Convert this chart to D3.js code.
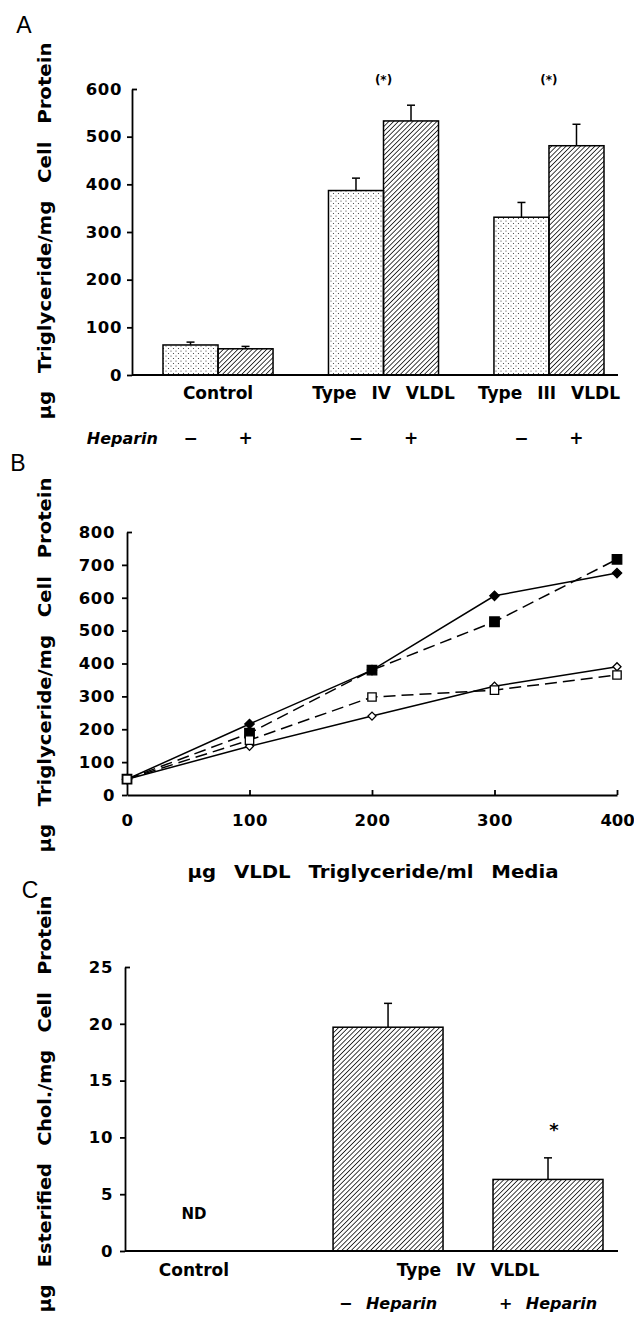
<!DOCTYPE html>
<html>
<head>
<meta charset="utf-8">
<script src="https://cdn.jsdelivr.net/npm/d3@7"></script>
<style>
  body { margin: 0; background: #fff; }
  text { font-family: "DejaVu Sans", sans-serif; font-weight: bold; fill: #000; }
  .letter { font-family: "Liberation Sans", sans-serif; font-weight: normal; font-size: 23px; }
  .tick text { font-size: 16.5px; letter-spacing: 0.6px; }
  .cat { font-size: 17px; word-spacing: 9px; }
  .hep { font-size: 16px; font-style: italic; word-spacing: 8px; }
  .title { font-size: 18px; word-spacing: 10px; }
  .domain, .tick line { stroke: #000; stroke-width: 1.8px; }
</style>
</head>
<body>
<svg id="fig" width="634" height="1317"></svg>
<script>
// ---- Panel A: triglyceride accumulation, bars by VLDL source, without / with heparin
const groupsA = ["Control", "Type IV VLDL", "Type III VLDL"];
const heparinLevels = ["\u2212", "+"];
const noHeparinA = [63, 387, 331];
const noHeparinErrA = [6, 26, 31];
const heparinA = [55, 533, 481];
const heparinErrA = [5, 33, 45];
const sigA = ["", "(*)", "(*)"];
const ticksA = [0, 100, 200, 300, 400, 500, 600];

// ---- Panel B: dose response, µg VLDL triglyceride per ml media
const dosesB = [0, 100, 200, 300, 400];
const filledDiamondB = [48, 216, 380, 606, 675];
const filledSquareB = [48, 188, 380, 527, 717];
const openDiamondB = [48, 148, 240, 331, 390];
const openSquareB = [48, 167, 298, 319, 365];
const ticksBy = [0, 100, 200, 300, 400, 500, 600, 700, 800];
const ticksBx = [0, 100, 200, 300, 400];

// ---- Panel C: esterified cholesterol
const groupsC = ["Control", "Type IV VLDL"];
const noHeparinC = [null, 19.7];
const noHeparinErrC = [null, 2.1];
const heparinC = [null, 6.3];
const heparinErrC = [null, 1.9];
const sigC = ["", "*"];
const notDetectedC = ["ND", ""];
const heparinLabelsC = ["\u2212  Heparin", "+  Heparin"];
const ticksC = [0, 5, 10, 15, 20, 25];

const svg = d3.select("#fig");

// fill patterns: stipple for "no heparin", diagonal hatch for "heparin"
const defs = svg.append("defs");
const dots = defs.append("pattern").attr("id", "dots")
  .attr("patternUnits", "userSpaceOnUse").attr("width", 5).attr("height", 5);
dots.append("circle").attr("cx", 1).attr("cy", 1).attr("r", 0.6).attr("fill", "#333");
dots.append("circle").attr("cx", 3.5).attr("cy", 3.5).attr("r", 0.6).attr("fill", "#333");
const hatch = defs.append("pattern").attr("id", "hatch")
  .attr("patternUnits", "userSpaceOnUse").attr("width", 3.4).attr("height", 3.4)
  .attr("patternTransform", "rotate(45)");
hatch.append("line").attr("x1", 0).attr("y1", 0).attr("x2", 0).attr("y2", 3.4)
  .attr("stroke", "#000").attr("stroke-width", 1.5);

const fills = { "\u2212": "url(#dots)", "+": "url(#hatch)" };

function yAxis(g, scale, ticks, padding) {
  g.call(d3.axisLeft(scale).tickValues(ticks).tickSize(5).tickSizeOuter(0).tickPadding(padding));
  const top = d3.max(ticks);
  g.selectAll(".tick").filter(d => d === top).select("line").attr("x2", 5);
  g.selectAll(".tick text").attr("font-family", null);
}

function rotatedTitle(x, y, label, len) {
  svg.append("text").attr("class", "title")
    .attr("transform", `translate(${x},${y}) rotate(-90)`)
    .attr("text-anchor", "middle").attr("dy", "0.35em")
    .attr("textLength", len).attr("lengthAdjust", "spacingAndGlyphs")
    .text(label);
}

function errorBars(g, rows, x, y) {
  const cap = 4;
  rows.forEach(r => {
    const cx = x(r);
    g.append("line").attr("x1", cx).attr("x2", cx)
      .attr("y1", y(r.v)).attr("y2", y(r.v + r.e)).attr("stroke", "#000").attr("stroke-width", 1.5);
    g.append("line").attr("x1", cx - cap).attr("x2", cx + cap)
      .attr("y1", y(r.v + r.e)).attr("y2", y(r.v + r.e)).attr("stroke", "#000").attr("stroke-width", 1.5);
  });
}

// ================= Panel A =================
const A = { left: 132, right: 618, top: 89, bottom: 375 };
const yA = d3.scaleLinear().domain([0, 600]).range([A.bottom, A.top]);
const xA = d3.scaleBand().domain(groupsA).range([163, 604]).paddingInner(0.335).paddingOuter(0);
const subA = d3.scaleBand().domain(heparinLevels).range([0, xA.bandwidth()]);

const rowsA = [];
groupsA.forEach((g, i) => {
  rowsA.push({ g, h: heparinLevels[0], v: noHeparinA[i], e: noHeparinErrA[i] });
  rowsA.push({ g, h: heparinLevels[1], v: heparinA[i], e: heparinErrA[i] });
});

const gA = svg.append("g");
gA.selectAll("rect.bar").data(rowsA).join("rect").attr("class", "bar")
  .attr("x", d => xA(d.g) + subA(d.h)).attr("width", subA.bandwidth())
  .attr("y", d => yA(d.v)).attr("height", d => yA(0) - yA(d.v))
  .attr("fill", d => fills[d.h]).attr("stroke", "#000").attr("stroke-width", 1.5);
errorBars(gA, rowsA, d => xA(d.g) + subA(d.h) + subA.bandwidth() / 2, yA);

gA.append("g").attr("transform", `translate(${A.left},0)`).call(g => yAxis(g, yA, ticksA, 5));
gA.append("line").attr("x1", A.left).attr("x2", A.right).attr("y1", yA(0)).attr("y2", yA(0))
  .attr("stroke", "#000").attr("stroke-width", 1.8);

gA.selectAll("text.cat").data(groupsA).join("text").attr("class", "cat")
  .attr("x", d => xA(d) + xA.bandwidth() / 2).attr("y", yA(0) + 24)
  .attr("text-anchor", "middle").text(d => d);
gA.selectAll("text.sig").data(groupsA).join("text").attr("class", "sig")
  .attr("x", d => xA(d) + xA.bandwidth() / 2).attr("y", A.top - 5)
  .attr("text-anchor", "middle").attr("font-size", 12).text((d, i) => sigA[i]);
gA.append("text").attr("class", "hep").attr("x", A.left + 26).attr("y", yA(0) + 69)
  .attr("text-anchor", "end").text("Heparin");
gA.selectAll("text.sign").data(rowsA).join("text").attr("class", "sign")
  .attr("x", d => xA(d.g) + subA(d.h) + subA.bandwidth() / 2).attr("y", yA(0) + 69)
  .attr("text-anchor", "middle").attr("font-size", 17).text(d => d.h);

rotatedTitle(45, 231, "\u00b5g Triglyceride/mg Cell Protein", 377);
svg.append("text").attr("class", "letter").attr("x", 24).attr("y", 33).attr("text-anchor", "middle").text("A");

// ================= Panel B =================
const B = { left: 127, right: 617, top: 532, bottom: 795 };
const xB = d3.scaleLinear().domain([0, 400]).range([B.left, B.right]);
const yB = d3.scaleLinear().domain([0, 800]).range([B.bottom, B.top]);
const gB = svg.append("g");

gB.append("g").attr("transform", `translate(${B.left},0)`).call(g => yAxis(g, yB, ticksBy, 7));
gB.append("g").attr("transform", `translate(0,${B.bottom})`)
  .call(d3.axisBottom(xB).tickValues(ticksBx).tickSize(-5).tickSizeOuter(0).tickPadding(19))
  .call(g => g.selectAll(".tick text").attr("font-family", null))
  .call(g => g.selectAll(".tick").filter(d => d === 400).select("text")
    .attr("text-anchor", "end").attr("dx", "1.05em").style("letter-spacing", "0px"))
  .call(g => g.selectAll(".tick").filter(d => d === 0).select("line").remove());

const seriesB = [
  { values: filledDiamondB, shape: "diamond", filled: true, dashed: false },
  { values: filledSquareB, shape: "square", filled: true, dashed: true },
  { values: openDiamondB, shape: "diamond", filled: false, dashed: false },
  { values: openSquareB, shape: "square", filled: false, dashed: true }
];
const lineB = d3.line().x((d, i) => xB(dosesB[i])).y(d => yB(d));
seriesB.forEach(s => {
  gB.append("path").attr("d", lineB(s.values)).attr("fill", "none")
    .attr("stroke", "#000").attr("stroke-width", 1.5)
    .attr("stroke-dasharray", s.dashed ? "12,6" : null);
});
seriesB.forEach(s => {
  const sym = s.shape === "square"
    ? d3.symbol(d3.symbolSquare, s.filled ? 90 : 70)
    : d3.symbol(d3.symbolSquare, s.filled ? 44 : 32);
  gB.selectAll(null).data(s.values).join("path")
    .attr("transform", (d, i) => `translate(${xB(dosesB[i])},${yB(d)})` + (s.shape === "diamond" ? " rotate(45)" : ""))
    .attr("d", sym())
    .attr("fill", s.filled ? "#000" : "#fff")
    .attr("stroke", "#000").attr("stroke-width", 1.3);
});

gB.append("text").attr("class", "title").attr("x", 373).attr("y", 878)
  .attr("text-anchor", "middle").attr("textLength", 371).attr("lengthAdjust", "spacingAndGlyphs")
  .text("\u00b5g VLDL Triglyceride/ml Media");
rotatedTitle(45, 665, "\u00b5g Triglyceride/mg Cell Protein", 375);
svg.append("text").attr("class", "letter").attr("x", 18).attr("y", 471).attr("text-anchor", "middle").text("B");

// ================= Panel C =================
const C = { left: 125, right: 618, top: 967, bottom: 1251 };
const yC = d3.scaleLinear().domain([0, 25]).range([C.bottom, C.top]);
const xC = d3.scaleBand().domain(groupsC).range([59, 603]).paddingInner(0.015).paddingOuter(0);
const subC = d3.scaleBand().domain(heparinLevels).range([0, xC.bandwidth()]).paddingInner(0.3125);

const rowsC = [];
groupsC.forEach((g, i) => {
  if (noHeparinC[i] != null) rowsC.push({ g, h: heparinLevels[0], v: noHeparinC[i], e: noHeparinErrC[i] });
  if (heparinC[i] != null) rowsC.push({ g, h: heparinLevels[1], v: heparinC[i], e: heparinErrC[i] });
});
const gC = svg.append("g");
gC.selectAll("rect.bar").data(rowsC).join("rect").attr("class", "bar")
  .attr("x", d => xC(d.g) + subC(d.h)).attr("width", subC.bandwidth())
  .attr("y", d => yC(d.v)).attr("height", d => yC(0) - yC(d.v))
  .attr("fill", "url(#hatch)").attr("stroke", "#000").attr("stroke-width", 1.5);
errorBars(gC, rowsC, d => xC(d.g) + subC(d.h) + subC.bandwidth() / 2, yC);

gC.append("g").attr("transform", `translate(${C.left},0)`).call(g => yAxis(g, yC, ticksC, 7));
gC.append("line").attr("x1", C.left).attr("x2", C.right).attr("y1", yC(0)).attr("y2", yC(0))
  .attr("stroke", "#000").attr("stroke-width", 1.8);

// significance mark above the heparin bar
rowsC.filter(d => d.h === "+").forEach(d => {
  const i = groupsC.indexOf(d.g);
  gC.append("text").attr("x", xC(d.g) + subC(d.h) + subC.bandwidth() / 2 + 6)
    .attr("y", yC(d.v + d.e) - 22).attr("text-anchor", "middle").attr("font-size", 18).text(sigC[i]);
});
gC.selectAll("text.nd").data(groupsC).join("text").attr("class", "nd")
  .attr("x", d => xC(d) + xC.bandwidth() / 2).attr("y", yC(0) - 32)
  .attr("text-anchor", "middle").attr("font-size", 15).text((d, i) => notDetectedC[i]);
gC.selectAll("text.cat").data(groupsC).join("text").attr("class", "cat")
  .attr("x", d => xC(d) + xC.bandwidth() / 2).attr("y", yC(0) + 25)
  .attr("text-anchor", "middle").text(d => d);
gC.selectAll("text.hepC").data(heparinLevels).join("text").attr("class", "hep")
  .attr("x", d => xC("Type IV VLDL") + subC(d) + subC.bandwidth() / 2)
  .attr("y", yC(0) + 58).attr("text-anchor", "middle").text((d, i) => heparinLabelsC[i]);

rotatedTitle(45, 1104, "\u00b5g Esterified Chol./mg Cell Protein", 417);
svg.append("text").attr("class", "letter").attr("x", 30).attr("y", 898).attr("text-anchor", "middle").text("C");
</script>
</body>
</html>
